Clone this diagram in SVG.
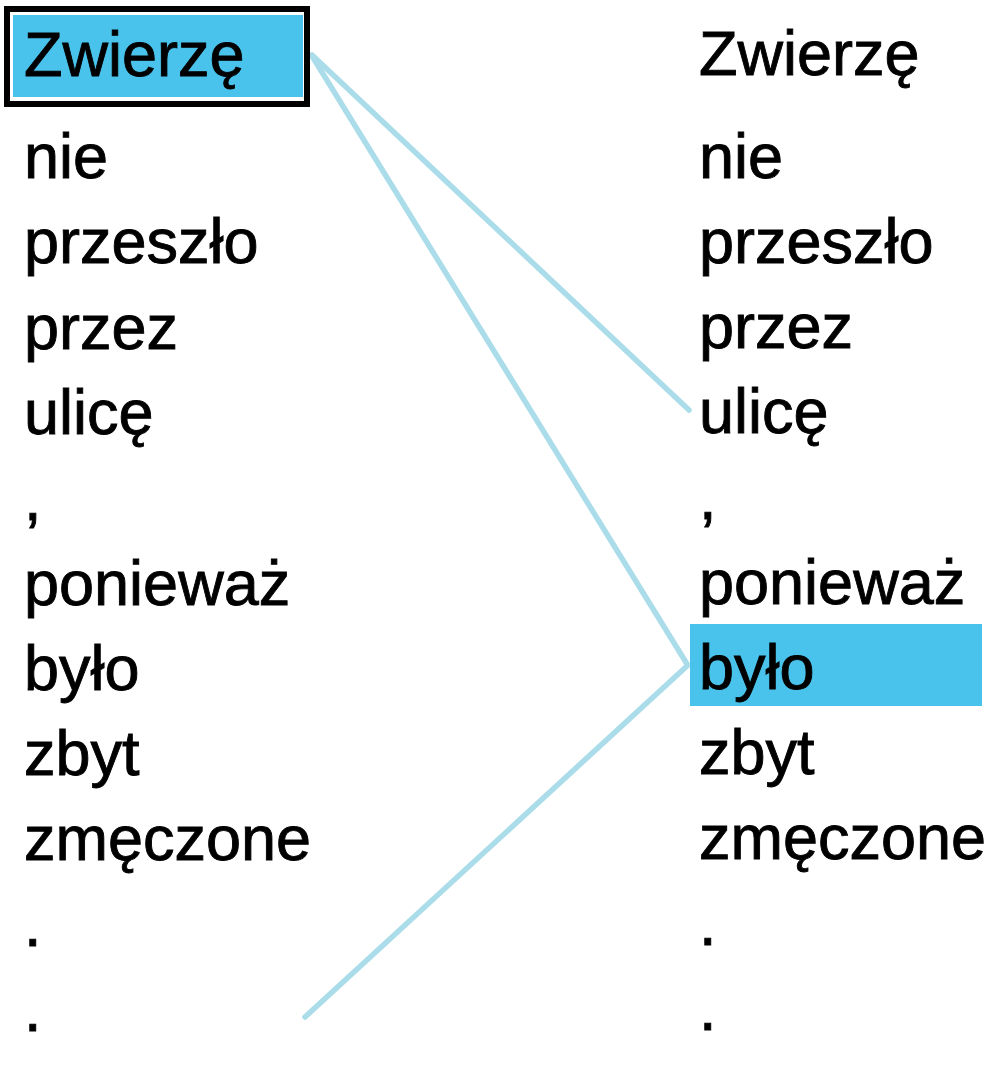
<svg xmlns="http://www.w3.org/2000/svg" width="992" height="1070" viewBox="0 0 992 1070">
<style>
.t{font-family:"Liberation Sans",Arial,sans-serif;font-size:63px;fill:#000;stroke:#000;stroke-width:0.9}
.hl{fill:#4ac3ec}
.c{stroke:#aadcea;stroke-width:5.5;stroke-linecap:round;fill:none}
</style>
<rect width="992" height="1070" fill="#fff"/>
<g id="connectors">
<line class="c" x1="312" y1="55" x2="689" y2="410"/>
<line class="c" x1="312" y1="56" x2="687" y2="664"/>
<line class="c" x1="305" y1="1017" x2="687" y2="666"/>
</g>
<g id="left">
<g id="L0"><rect x="7" y="9" width="300" height="95" fill="none" stroke="#000" stroke-width="6"/><rect class="hl" x="13" y="15" width="290" height="82"/><text class="t" x="24" y="76">Zwierzę</text></g>
<g id="L1"><text class="t" x="24" y="178">nie</text></g>
<g id="L2"><text class="t" x="24" y="263">przeszło</text></g>
<g id="L3"><text class="t" x="24" y="349">przez</text></g>
<g id="L4"><text class="t" x="24" y="434">ulicę</text></g>
<g id="L5"><text class="t" x="24" y="520">,</text></g>
<g id="L6"><text class="t" x="24" y="605">ponieważ</text></g>
<g id="L7"><text class="t" x="24" y="690">było</text></g>
<g id="L8"><text class="t" x="24" y="775">zbyt</text></g>
<g id="L9"><text class="t" x="24" y="860">zmęczone</text></g>
<g id="L10"><text class="t" x="24" y="946">.</text></g>
<g id="L11"><text class="t" x="24" y="1031">.</text></g>
</g>
<g id="right">
<g id="R0"><text class="t" x="699" y="75">Zwierzę</text></g>
<g id="R1"><text class="t" x="699" y="178">nie</text></g>
<g id="R2"><text class="t" x="699" y="263">przeszło</text></g>
<g id="R3"><text class="t" x="699" y="348">przez</text></g>
<g id="R4"><text class="t" x="699" y="433">ulicę</text></g>
<g id="R5"><text class="t" x="699" y="519">,</text></g>
<g id="R6"><text class="t" x="699" y="604">ponieważ</text></g>
<g id="R7"><rect class="hl" x="690" y="624" width="292" height="82"/><text class="t" x="699" y="689">było</text></g>
<g id="R8"><text class="t" x="699" y="774">zbyt</text></g>
<g id="R9"><text class="t" x="699" y="859">zmęczone</text></g>
<g id="R10"><text class="t" x="699" y="945">.</text></g>
<g id="R11"><text class="t" x="699" y="1030">.</text></g>
</g>
</svg>
